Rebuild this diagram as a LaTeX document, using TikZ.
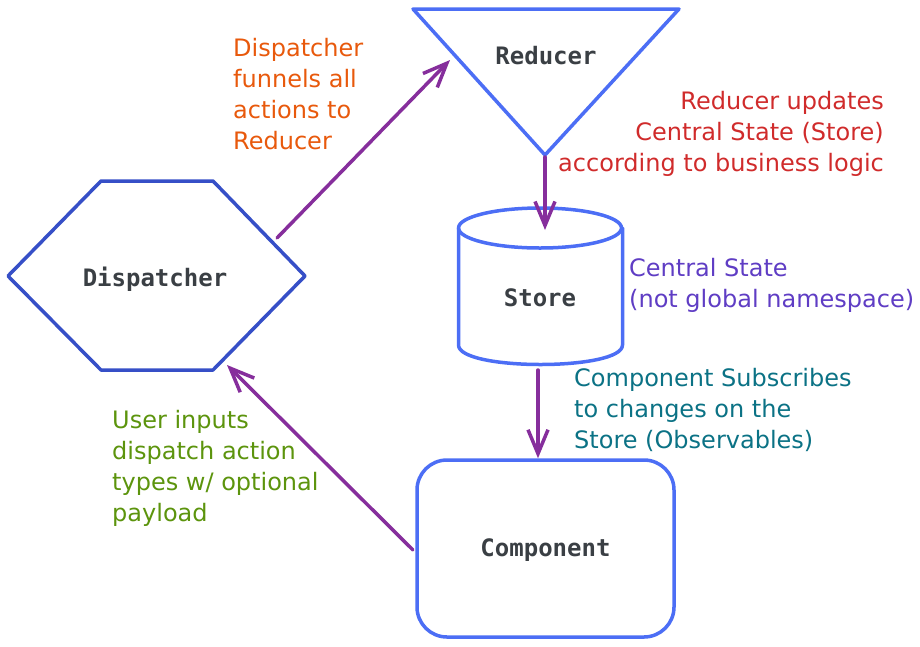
\documentclass[tikz,border=0pt]{standalone}
\usepackage{fontspec}
\setmainfont{DejaVu Sans}
\newfontfamily\labelfont{DejaVu Sans Mono}
\usetikzlibrary{arrows.meta}
\definecolor{shapeblue}{HTML}{4C6EF5}
\definecolor{hexblue}{HTML}{364FC7}
\definecolor{flowpurple}{HTML}{862E9C}
\definecolor{labelgray}{HTML}{3A3F44}
\definecolor{noteorange}{HTML}{E8590C}
\definecolor{notered}{HTML}{D02B2B}
\definecolor{noteviolet}{HTML}{5F3DC4}
\definecolor{noteteal}{HTML}{0B7285}
\definecolor{notegreen}{HTML}{5C940D}
\begin{document}
\begin{tikzpicture}[x=1pt,y=-1pt,
    shapeline/.style={line width=3.5pt,line join=round,line cap=round},
    flow/.style={line width=3.5pt,flowpurple,line cap=round,-{Straight Barb[length=24pt,width=20pt]}},
    boxlabel/.style={font=\labelfont\bfseries\fontsize{24}{29}\selectfont,text=labelgray},
    note/.style={font=\fontsize{24}{31}\selectfont,anchor=north west,align=left,inner sep=0pt}]
    \useasboundingbox (0,0) rectangle (920,646);
    %% dispatcher
    \draw[shapeline,hexblue] (8,276) -- (101,181) -- (213,181) -- (305,276) -- (213,370) -- (101,370) -- cycle;
    \node[boxlabel] (dispatcher) at (155,279) {Dispatcher};
    %% reducer
    \draw[shapeline,shapeblue] (413,9) -- (679,9) -- (545,155) -- cycle;
    \node[boxlabel] (reducer) at (546,56) {Reducer};
    %% store
    \draw[shapeline,shapeblue] (540,228) ellipse [x radius=81.5,y radius=20];
    \draw[shapeline,shapeblue] (458.5,228) -- (458.5,345) .. controls (458.5,371) and (622.5,371) .. (622.5,345) -- (622.5,228);
    \node[boxlabel] (store) at (540,298) {Store};
    %% component
    \node[boxlabel,draw=shapeblue,line width=3.5pt,rounded corners=30pt,minimum width=257pt,minimum height=177pt,text depth=2pt] (component) at (545.5,548.5) {Component};
    %% connector ends
    \coordinate (dispatcher-out) at (277,238);
    \coordinate (reducer-in) at (450,60);
    \coordinate (reducer-tip) at (545,157);
    \coordinate (store-top) at (545,230);
    \coordinate (store-bot) at (538,370);
    \coordinate (component-left) at (413,550);
    \coordinate (dispatcher-in) at (227,365);
    \draw[flow] (dispatcher-out) -- (reducer-in);
    \draw[flow] (reducer-tip) -- (store-top);
    \draw[flow] (store-bot) -- (store-bot |- component.north);
    \draw[flow] (component-left) -- (dispatcher-in);
    %% notes
    \node[note,text=noteorange] (funnel-note) at (233,38) {Dispatcher\\funnels all\\actions to\\Reducer};
    \node[note,text=notered,anchor=north east,align=right] (update-note) at (884,91) {Reducer updates\\Central State (Store)\\according to business logic};
    \node[note,text=noteviolet] (state-note) at (629,258) {Central State\\(not global namespace)};
    \node[note,text=noteteal] (subscribe-note) at (574,368) {Component Subscribes\\to changes on the\\Store (Observables)};
    \node[note,text=notegreen] (input-note) at (112,410) {User inputs\\dispatch action\\types w/ optional\\payload};
\end{tikzpicture}
\end{document}
